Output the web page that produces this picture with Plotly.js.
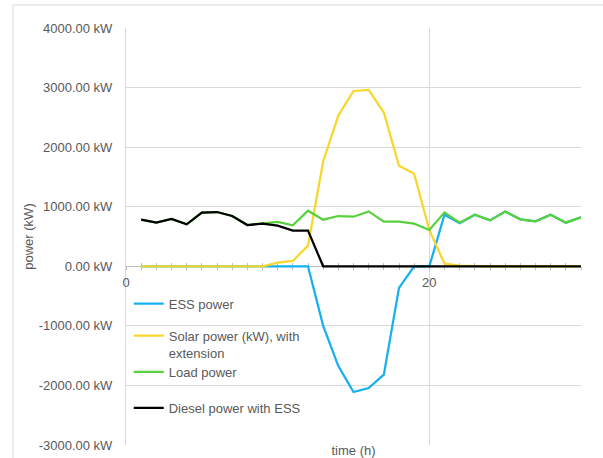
<!DOCTYPE html>
<html>
<head>
<meta charset="utf-8">
<script src="https://cdn.plot.ly/plotly-3.0.1.min.js"></script>
<style>
  html, body { margin: 0; padding: 0; background: #ffffff; }
  #chart { width: 603px; height: 458px; }
</style>
</head>
<body>
<div id="chart"></div>
<script>
// ---- data ----
const timeH = [1,2,3,4,5,6,7,8,9,10,11,12,13,14,15,16,17,18,19,20,21,22,23,24,25,26,27,28,29,30];
const essPower = [0,0,0,0,0,0,0,0,0,0,0,0,-1000,-1675,-2110,-2043,-1820,-362,0,0,866,722,866,771,921,788,754,866,732,821];
const solarPower = [0,0,0,0,0,0,0,0,0,62,90,347,1759,2530,2943,2960,2580,1687,1553,609,45,10,0,0,0,0,0,0,0,0];
const loadPower = [782,732,794,704,900,911,844,693,720,744,687,933,782,844,832,921,749,749,715,609,905,732,866,771,921,788,754,866,732,821];
const dieselPower = [782,732,794,704,900,911,844,693,715,682,598,598,0,0,0,0,0,0,0,0,0,0,0,0,0,0,0,0,0,0];

const seriesNames = ["ESS power", "Solar power (kW), with<br>extension", "Load power", "Diesel power with ESS"];
const seriesColors = ["#14b1ee", "#f9d62e", "#59d13d", "#000000"];

const yTickVals = [-3000,-2000,-1000,0,1000,2000,3000,4000];
const yTickText = ["-3000.00 kW","-2000.00 kW","-1000.00 kW","0.00 kW","1000.00 kW","2000.00 kW","3000.00 kW","4000.00 kW"];
const xTickVals = [0, 20];
const xTickText = ["0", "20"];
const xRange = [0, 30];
const yRange = [-3000, 4000];

const FONT = "'Liberation Sans', Arial, sans-serif";
const GRAY = "#595959";

const seriesValues = [essPower, solarPower, loadPower, dieselPower];
const legendIds = ["legend", "legend2", "legend3", "legend4"];
const traces = seriesValues.map((vals, i) => ({
  type: "scatter",
  mode: "lines",
  x: timeH,
  y: vals,
  name: seriesNames[i],
  legend: legendIds[i],
  line: { color: seriesColors[i], width: 2.25 },
  hoverinfo: "skip"
}));
// empty helper traces so the overlay axes (cross ticks, bottom title) are drawn
traces.push({ type: "scatter", mode: "lines", x: [], y: [], xaxis: "x2", showlegend: false, hoverinfo: "skip" });
traces.push({ type: "scatter", mode: "lines", x: [], y: [], xaxis: "x3", showlegend: false, hoverinfo: "skip" });

const zeroPos = (0 - yRange[0]) / (yRange[1] - yRange[0]);

function legendAt(y) {
  return {
    x: 0.006, y: y, xanchor: "left", yanchor: "middle",
    bgcolor: "rgba(0,0,0,0)", borderwidth: 0,
    font: { family: FONT, size: 13, color: GRAY },
    itemwidth: 30, valign: "top", tracegroupgap: 0
  };
}

const layout = {
  width: 603, height: 458,
  margin: { l: 126, r: 22, t: 28, b: 13, pad: 0 },
  paper_bgcolor: "#ffffff",
  plot_bgcolor: "#ffffff",
  font: { family: FONT, size: 13, color: GRAY },
  showlegend: true,
  legend: legendAt(0.339),
  legend2: legendAt(0.242),
  legend3: legendAt(0.175),
  legend4: legendAt(0.089),
  xaxis: {
    range: xRange,
    anchor: "free", position: zeroPos,
    tickmode: "array", tickvals: xTickVals, ticktext: xTickText,
    showgrid: true, gridcolor: "#d9d9d9", gridwidth: 1,
    showline: true, linecolor: "#bfbfbf", linewidth: 1,
    ticks: "outside", ticklen: 3, tickcolor: "#bfbfbf",
    minor: { tickmode: "linear", tick0: 0, dtick: 1, ticks: "outside", ticklen: 3, tickcolor: "#bfbfbf", showgrid: false },
    ticklabelstandoff: 1,
    tickfont: { family: FONT, size: 13, color: GRAY },
    zeroline: false, fixedrange: true, layer: "below traces"
  },
  xaxis2: {
    range: xRange, overlaying: "x",
    anchor: "free", position: zeroPos,
    tickmode: "linear", tick0: 0, dtick: 1,
    ticks: "inside", ticklen: 3, tickcolor: "#bfbfbf",
    showticklabels: false, showgrid: false, showline: false, zeroline: false,
    layer: "below traces"
  },
  xaxis3: {
    range: xRange, overlaying: "x",
    anchor: "y", side: "bottom",
    showticklabels: false, ticks: "", showgrid: false, showline: false, zeroline: false,
    layer: "below traces",
    title: { text: "time (h)", font: { family: FONT, size: 13, color: GRAY }, standoff: 3 }
  },
  yaxis: {
    range: yRange,
    tickmode: "array", tickvals: yTickVals, ticktext: yTickText,
    showgrid: true, gridcolor: "#d9d9d9", gridwidth: 1,
    showline: true, linecolor: "#d9d9d9", linewidth: 1,
    zeroline: false, ticks: "", ticklabelstandoff: 10,
    tickfont: { family: FONT, size: 13, color: GRAY },
    title: { text: "power (kW)", font: { family: FONT, size: 13, color: GRAY }, standoff: 2 },
    fixedrange: true, layer: "below traces"
  },
  shapes: [{
    type: "rect", xref: "paper", yref: "paper",
    x0: (13 - 126) / 455, x1: 1.2, y0: -0.2, y1: (445 - 5) / 417,
    line: { color: "#d9d9d9", width: 1 }, fillcolor: "rgba(0,0,0,0)", layer: "below"
  }]
};

Plotly.newPlot("chart", traces, layout, { displayModeBar: false, staticPlot: true });
</script>
</body>
</html>
